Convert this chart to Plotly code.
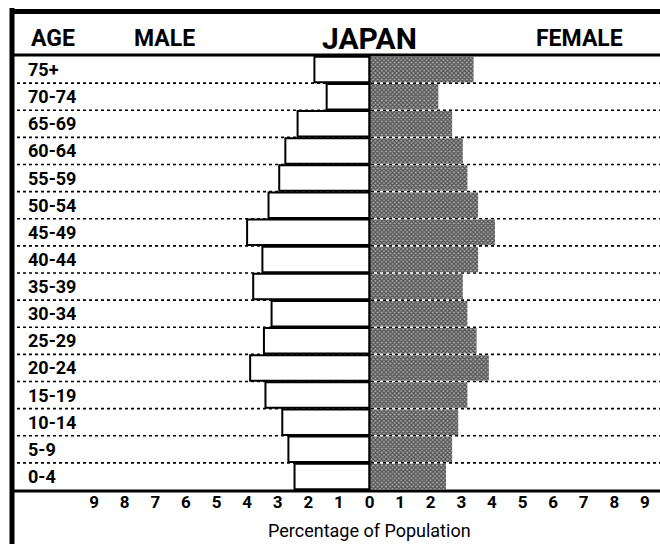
import plotly.graph_objects as go

# Age groups, youngest first (bottom of the pyramid)
age_groups = ["0-4", "5-9", "10-14", "15-19", "20-24", "25-29", "30-34", "35-39",
              "40-44", "45-49", "50-54", "55-59", "60-64", "65-69", "70-74", "75+"]
male_pct = [2.45, 2.65, 2.85, 3.4, 3.9, 3.45, 3.2, 3.8,
            3.5, 4.0, 3.3, 2.95, 2.75, 2.35, 1.4, 1.8]
female_pct = [2.5, 2.7, 2.9, 3.2, 3.9, 3.5, 3.2, 3.05,
              3.55, 4.1, 3.55, 3.2, 3.05, 2.7, 2.25, 3.4]
tick_values = [-9, -8, -7, -6, -5, -4, -3, -2, -1, 0, 1, 2, 3, 4, 5, 6, 7, 8, 9]
tick_labels = [str(abs(v)) for v in tick_values]

W, H = 660, 544
PLOT_TOP, PLOT_BOTTOM = 56, 490
X_ZERO, PX_PER_UNIT = 369.5, 30.6

FONT = "Roboto, Liberation Sans, Arial, sans-serif"

ypos = list(range(len(age_groups)))

fig = go.Figure()
fig.add_trace(go.Bar(
    y=ypos, x=[-v for v in male_pct], orientation="h", name="Male",
    marker=dict(color="white", line=dict(color="black", width=2)),
))
fig.add_trace(go.Bar(
    y=ypos, x=female_pct, orientation="h", name="Female",
    marker=dict(color="#707070", line=dict(width=0),
                pattern=dict(shape="x", size=3, solidity=0.65,
                             fgcolor="#000000", bgcolor="#a8a8a8")),
))


def py(p):
    """Pixel row -> paper y."""
    return (PLOT_BOTTOM - p) / (PLOT_BOTTOM - PLOT_TOP)


shapes = []
# dotted row separators
for i in range(len(age_groups) - 1):
    shapes.append(dict(type="line", xref="paper", yref="y", x0=17 / W, x1=1,
                       y0=i + 0.5, y1=i + 0.5, layer="below",
                       line=dict(color="black", width=1.6, dash="dot")))
# frame
shapes += [
    dict(type="line", xref="paper", yref="paper", x0=12 / W, x1=12 / W,
         y0=py(8), y1=py(H + 5), line=dict(color="black", width=5)),
    dict(type="line", xref="paper", yref="paper", x0=10 / W, x1=1.01,
         y0=py(11.5), y1=py(11.5), line=dict(color="black", width=5)),
    dict(type="line", xref="paper", yref="paper", x0=12 / W, x1=1.01,
         y0=py(55), y1=py(55), line=dict(color="black", width=3)),
    dict(type="line", xref="paper", yref="paper", x0=12 / W, x1=1.01,
         y0=py(491), y1=py(491), line=dict(color="black", width=3)),
    dict(type="line", xref="x", yref="paper", x0=0, x1=0, y0=0, y1=1,
         line=dict(color="black", width=2)),
]

annotations = []
for i, lab in enumerate(age_groups):
    annotations.append(dict(xref="paper", yref="y", x=26 / W, y=i, text=f"<b>{lab}</b>",
                            showarrow=False, xanchor="left", yanchor="middle",
                            font=dict(family=FONT, size=18, color="black")))
headers = [("AGE", 29, 23, "left"), ("MALE", 132, 23, "left"),
           ("JAPAN", 370, 30, "center"), ("FEMALE", 534, 23, "left")]
for txt, x, size, anchor in headers:
    annotations.append(dict(xref="paper", yref="paper", x=x / W, y=py(38), text=f"<b>{txt}</b>",
                            showarrow=False, xanchor=anchor, yanchor="middle",
                            font=dict(family=FONT, size=size, color="black")))
annotations.append(dict(xref="x", yref="paper", x=0, y=py(530), text="Percentage of Population",
                        showarrow=False, xanchor="center", yanchor="middle",
                        font=dict(family=FONT, size=18, color="black")))

fig.update_layout(
    width=W, height=H,
    margin=dict(l=0, r=0, t=PLOT_TOP, b=H - PLOT_BOTTOM, pad=0),
    paper_bgcolor="white", plot_bgcolor="white",
    barmode="overlay", bargap=0.06, showlegend=False,
    shapes=shapes, annotations=annotations,
    xaxis=dict(range=[-X_ZERO / PX_PER_UNIT, (W - X_ZERO) / PX_PER_UNIT],
               tickvals=tick_values, ticktext=[f"<b>{t}</b>" for t in tick_labels],
               tickfont=dict(family=FONT, size=17, color="black"),
               showgrid=False, zeroline=False, showline=False, ticks="", fixedrange=True),
    yaxis=dict(range=[-0.5, len(age_groups) - 0.5], showticklabels=False,
               showgrid=False, zeroline=False, showline=False, ticks="", fixedrange=True),
)

fig.write_html("out.html")
